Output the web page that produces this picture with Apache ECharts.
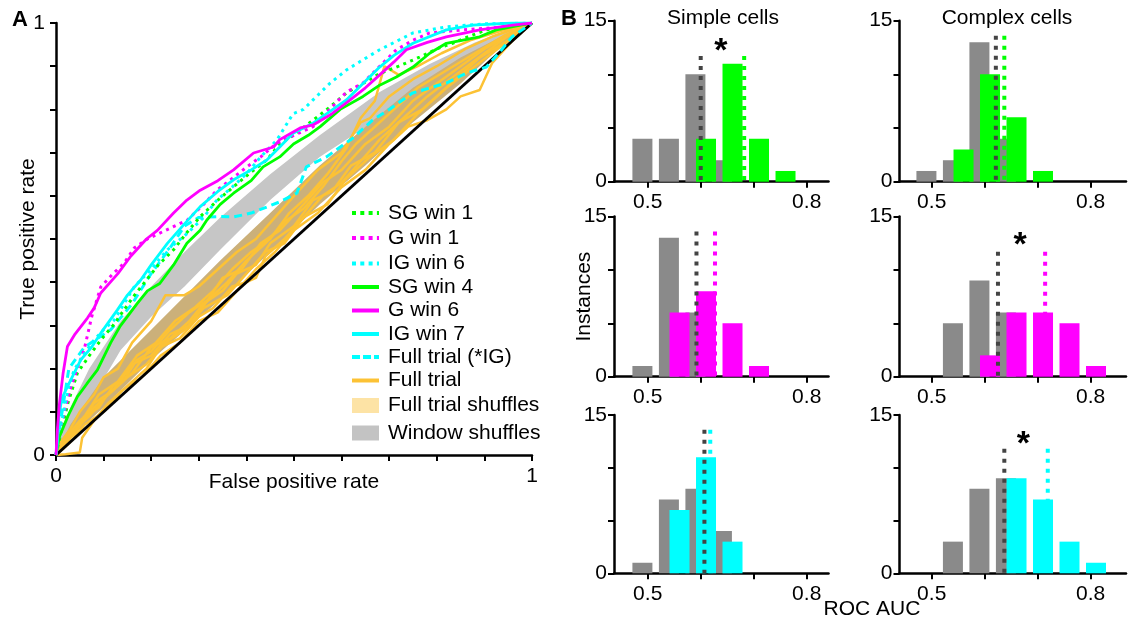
<!DOCTYPE html>
<html>
<head>
<meta charset="utf-8">
<script src="https://cdn.jsdelivr.net/npm/echarts@6.0.0/dist/echarts.min.js"></script>
<style>
html, body { margin: 0; padding: 0; background: #fff; }
#main { width: 1129px; height: 631px; }
</style>
</head>
<body>
<div id="main"></div>
<script>
var FONT = 'Liberation Sans, Arial, sans-serif';

// ===== A: ROC curves, [false positive rate, true positive rate] =====
var sgWin1 = [[0,0],[0.01,0.05],[0.025,0.12],[0.045,0.19],[0.07,0.23],[0.094,0.266],[0.12,0.3],[0.143,0.336],[0.165,0.37],[0.185,0.398],[0.215,0.44],[0.247,0.475],[0.275,0.515],[0.303,0.552],[0.34,0.59],[0.373,0.621],[0.41,0.655],[0.443,0.683],[0.47,0.72],[0.492,0.735],[0.54,0.775],[0.575,0.805],[0.61,0.838],[0.645,0.86],[0.68,0.883],[0.72,0.9],[0.764,0.921],[0.8,0.94],[0.833,0.953],[0.87,0.97],[0.904,0.984],[1,1]];
var gWin1 = [[0,0],[0.01,0.065],[0.02,0.11],[0.031,0.157],[0.045,0.2],[0.059,0.243],[0.075,0.32],[0.094,0.389],[0.12,0.42],[0.143,0.444],[0.165,0.48],[0.192,0.5],[0.23,0.52],[0.276,0.544],[0.31,0.58],[0.338,0.613],[0.37,0.64],[0.401,0.667],[0.43,0.69],[0.464,0.722],[0.5,0.74],[0.54,0.76],[0.575,0.8],[0.61,0.84],[0.645,0.861],[0.68,0.9],[0.715,0.938],[0.75,0.96],[0.785,0.977],[0.854,0.984],[0.93,0.99],[1,1]];
var igWin6 = [[0,0],[0.005,0.04],[0.014,0.088],[0.025,0.15],[0.038,0.197],[0.06,0.235],[0.08,0.266],[0.1,0.29],[0.122,0.312],[0.143,0.35],[0.164,0.389],[0.2,0.43],[0.234,0.475],[0.276,0.513],[0.31,0.55],[0.338,0.59],[0.37,0.62],[0.401,0.652],[0.43,0.69],[0.464,0.729],[0.498,0.79],[0.52,0.8],[0.54,0.822],[0.575,0.86],[0.61,0.891],[0.645,0.915],[0.68,0.938],[0.75,0.977],[0.82,0.991],[0.9,0.998],[1,1]];
var sgWin4 = [[0,0],[0.007,0.042],[0.025,0.09],[0.045,0.135],[0.065,0.165],[0.087,0.197],[0.115,0.26],[0.134,0.297],[0.17,0.35],[0.192,0.38],[0.218,0.397],[0.247,0.44],[0.275,0.49],[0.303,0.52],[0.317,0.544],[0.345,0.58],[0.373,0.606],[0.41,0.635],[0.435,0.667],[0.47,0.69],[0.499,0.72],[0.53,0.74],[0.555,0.76],[0.597,0.8],[0.645,0.83],[0.68,0.856],[0.715,0.875],[0.75,0.898],[0.785,0.93],[0.82,0.953],[0.89,0.968],[0.925,0.984],[1,1]];
var gWin6 = [[0,0],[0.003,0.06],[0.007,0.116],[0.015,0.19],[0.024,0.251],[0.04,0.28],[0.066,0.317],[0.08,0.34],[0.094,0.375],[0.13,0.42],[0.157,0.46],[0.19,0.5],[0.213,0.52],[0.247,0.56],[0.275,0.59],[0.303,0.613],[0.34,0.635],[0.373,0.66],[0.415,0.699],[0.457,0.713],[0.47,0.73],[0.513,0.757],[0.54,0.764],[0.58,0.79],[0.61,0.815],[0.65,0.85],[0.68,0.88],[0.71,0.91],[0.736,0.938],[0.78,0.955],[0.82,0.968],[0.89,0.984],[0.96,0.995],[1,1]];
var igWin7 = [[0,0],[0.003,0.028],[0.006,0.088],[0.012,0.13],[0.024,0.158],[0.052,0.22],[0.075,0.25],[0.094,0.282],[0.129,0.336],[0.15,0.37],[0.178,0.405],[0.2,0.44],[0.234,0.49],[0.27,0.535],[0.303,0.575],[0.34,0.61],[0.373,0.637],[0.41,0.66],[0.443,0.683],[0.47,0.713],[0.498,0.745],[0.54,0.768],[0.575,0.795],[0.61,0.822],[0.645,0.86],[0.68,0.898],[0.71,0.925],[0.75,0.953],[0.82,0.984],[0.875,0.995],[0.96,1],[1,1]];
var fullTrialIG = [[0,0],[0.01,0.08],[0.027,0.2],[0.06,0.25],[0.115,0.29],[0.16,0.35],[0.2,0.42],[0.24,0.48],[0.27,0.53],[0.3,0.55],[0.345,0.552],[0.373,0.551],[0.41,0.56],[0.443,0.574],[0.47,0.586],[0.506,0.606],[0.526,0.667],[0.568,0.69],[0.624,0.734],[0.665,0.775],[0.7,0.8],[0.749,0.838],[0.82,0.861],[0.862,0.884],[0.904,0.898],[0.93,0.93],[0.958,0.968],[1,1]];
var fullTrial = [
  [[0,0],[0.01,0.03],[0.03,0.06],[0.05,0.1],[0.08,0.14],[0.1,0.18],[0.13,0.2],[0.16,0.26],[0.2,0.31],[0.23,0.37],[0.27,0.37],[0.3,0.39],[0.34,0.43],[0.38,0.47],[0.42,0.5],[0.46,0.55],[0.5,0.6],[0.55,0.66],[0.6,0.7],[0.64,0.77],[0.66,0.78],[0.7,0.83],[0.75,0.87],[0.8,0.9],[0.86,0.94],[0.92,0.97],[1,1]],
  [[0,0],[0.02,0.02],[0.04,0.06],[0.07,0.09],[0.1,0.13],[0.14,0.17],[0.17,0.22],[0.2,0.24],[0.24,0.29],[0.28,0.33],[0.32,0.36],[0.35,0.41],[0.39,0.43],[0.43,0.49],[0.47,0.52],[0.52,0.58],[0.56,0.63],[0.6,0.66],[0.65,0.72],[0.7,0.76],[0.75,0.82],[0.8,0.86],[0.85,0.9],[0.9,0.94],[0.95,0.97],[1,1]],
  [[0,0],[0.02,0.002],[0.05,0.006],[0.055,0.04],[0.08,0.08],[0.11,0.12],[0.15,0.16],[0.19,0.2],[0.22,0.25],[0.26,0.27],[0.3,0.32],[0.33,0.34],[0.37,0.39],[0.4,0.4],[0.42,0.41],[0.44,0.46],[0.48,0.5],[0.52,0.55],[0.57,0.58],[0.61,0.64],[0.66,0.69],[0.71,0.73],[0.76,0.79],[0.82,0.85],[0.88,0.9],[0.94,0.95],[1,1]],
  [[0,0],[0.02,0.04],[0.05,0.08],[0.09,0.11],[0.12,0.16],[0.16,0.19],[0.2,0.25],[0.24,0.27],[0.28,0.31],[0.31,0.35],[0.35,0.38],[0.38,0.42],[0.42,0.44],[0.45,0.49],[0.5,0.53],[0.54,0.59],[0.58,0.61],[0.62,0.67],[0.67,0.7],[0.72,0.77],[0.77,0.8],[0.83,0.86],[0.89,0.92],[0.95,0.96],[1,1]],
  [[0,0],[0.03,0.05],[0.06,0.09],[0.09,0.14],[0.13,0.17],[0.17,0.23],[0.21,0.26],[0.25,0.31],[0.29,0.34],[0.33,0.38],[0.37,0.43],[0.41,0.47],[0.45,0.5],[0.49,0.56],[0.53,0.6],[0.57,0.65],[0.61,0.71],[0.64,0.78],[0.67,0.82],[0.69,0.9],[0.72,0.88],[0.76,0.9],[0.81,0.93],[0.87,0.96],[0.93,0.98],[1,1]],
  [[0,0],[0.03,0.03],[0.06,0.07],[0.1,0.1],[0.14,0.15],[0.18,0.18],[0.22,0.23],[0.26,0.26],[0.3,0.31],[0.34,0.33],[0.38,0.38],[0.42,0.43],[0.46,0.47],[0.5,0.52],[0.55,0.56],[0.6,0.62],[0.65,0.66],[0.7,0.72],[0.74,0.76],[0.78,0.775],[0.82,0.8],[0.85,0.83],[0.89,0.845],[0.916,0.907],[0.96,0.96],[1,1]],
  [[0,0],[0.01,0.02],[0.04,0.05],[0.07,0.1],[0.11,0.14],[0.15,0.18],[0.19,0.21],[0.23,0.26],[0.27,0.29],[0.31,0.34],[0.36,0.37],[0.4,0.42],[0.44,0.47],[0.48,0.49],[0.52,0.55],[0.56,0.6],[0.6,0.63],[0.64,0.68],[0.68,0.73],[0.73,0.78],[0.78,0.83],[0.84,0.88],[0.9,0.93],[0.95,0.97],[1,1]],
  [[0,0],[0.02,0.03],[0.05,0.07],[0.08,0.12],[0.12,0.15],[0.16,0.21],[0.2,0.23],[0.24,0.28],[0.28,0.3],[0.32,0.36],[0.36,0.4],[0.4,0.45],[0.44,0.49],[0.48,0.54],[0.52,0.57],[0.56,0.62],[0.6,0.68],[0.63,0.72],[0.66,0.75],[0.71,0.8],[0.76,0.85],[0.82,0.89],[0.88,0.93],[0.94,0.97],[1,1]]
];
var diagonal = [[0,0],[1,1]];
// shuffle envelopes
var winShufFpr  = [0, 0.01, 0.03, 0.07, 0.136, 0.2, 0.27, 0.345, 0.45, 0.554, 0.68, 0.785, 0.88, 0.95, 1];
var winShufHigh = [0, 0.05, 0.11, 0.2, 0.31, 0.39, 0.47, 0.55, 0.65, 0.74, 0.84, 0.905, 0.955, 0.985, 1];
var winShufLow  = [0, 0.01, 0.04, 0.12, 0.243, 0.32, 0.39, 0.475, 0.59, 0.69, 0.78, 0.865, 0.93, 0.97, 1];
var ftShufFpr  = [0, 0.03, 0.1, 0.2, 0.345, 0.45, 0.554, 0.65, 0.75, 0.85, 0.93, 1];
var ftShufHigh = [0, 0.07, 0.18, 0.29, 0.45, 0.56, 0.67, 0.76, 0.85, 0.92, 0.965, 1];
var ftShufLow  = [0, 0.04, 0.11, 0.22, 0.36, 0.47, 0.58, 0.67, 0.77, 0.86, 0.94, 1];
var rocTicks = [0, 0.1, 0.2, 0.3, 0.4, 0.5, 0.6, 0.7, 0.8, 0.9, 1];
var rocLabels = [0, 1];

// ===== B: ROC AUC histograms, [bin centre, count] =====
var aucTicks = [0.5, 0.6, 0.7, 0.8];
var aucLabels = [0.5, 0.8];
var countTicks = [0, 5, 10, 15];
var countLabels = [0, 15];
var simpleGray = [
  [[0.49,4],[0.54,4],[0.59,10],[0.64,2]],
  [[0.49,1],[0.54,13],[0.59,6]],
  [[0.49,1],[0.54,7],[0.59,8],[0.64,4]]
];
var simpleWin = [
  [[0.61,4],[0.66,11],[0.71,4],[0.76,1]],
  [[0.56,6],[0.61,8],[0.66,5],[0.71,1]],
  [[0.56,6],[0.61,11],[0.66,3]]
];
var complexGray = [
  [[0.49,1],[0.54,2],[0.59,13],[0.64,4]],
  [[0.54,5],[0.59,9],[0.64,6]],
  [[0.54,3],[0.59,8],[0.64,9]]
];
var complexWin = [
  [[0.56,3],[0.61,10],[0.66,6],[0.71,1]],
  [[0.61,2],[0.66,6],[0.71,6],[0.76,5],[0.81,1]],
  [[0.66,9],[0.71,7],[0.76,3],[0.81,1]]
];
var simpleGrayMean = [0.600, 0.592, 0.607];
var simpleWinMean = [0.682, 0.627, 0.618];
var simpleMeanTop = [11.7, 13.6, 13.6];
var complexGrayMean = [0.621, 0.625, 0.637];
var complexWinMean = [0.637, 0.714, 0.719];
var complexMeanTop = [13.6, 11.7, 11.8];
var simpleStar = [[0.638, 12.7], null, null];
var complexStar = [null, [0.667, 12.8], [0.673, 12.8]];

var legendNames = ['SG win 1', 'G win 1', 'IG win 6', 'SG win 4', 'G win 6', 'IG win 7', 'Full trial (*IG)', 'Full trial', 'Full trial shuffles', 'Window shuffles'];

// ---- styles / layout ----
var GREEN = '#00ff00', MAGENTA = '#ff00ff', CYAN = '#00ffff', ORANGE = '#fcc235';
var rowColors = [GREEN, MAGENTA, CYAN];
var DOT = [3, 4.5], DASH = [8, 5];
var legendStyles = [
  {stroke: GREEN, dash: [4, 4.3]}, {stroke: MAGENTA, dash: [4, 4.3]}, {stroke: CYAN, dash: [4, 4.3]},
  {stroke: GREEN}, {stroke: MAGENTA}, {stroke: CYAN},
  {stroke: CYAN, dash: [8, 3]}, {stroke: ORANGE},
  {fill: '#fde3a5'}, {fill: '#c3c3c3'}
];
var legendY = [213, 238, 263.5, 287, 310.5, 334, 357, 380.5, 405.5, 433];
var colLeft = [614, 899.5], colWidth = [214.5, 226.5], colMin = [0.4364, 0.4392], colMax = [0.8411, 0.8666];
var rowTop = [20.7, 216.5, 415], rowHeight = [161, 160.2, 158.3];

var chart = echarts.init(document.getElementById('main'));

var axisLineStyle = {color: '#000', width: 2.5};
var tickStyle = {color: '#000', width: 2};

var option = {
  animation: false,
  textStyle: {fontFamily: FONT},
  grid: [{left: 56, top: 23, width: 476, height: 432}],
  xAxis: [{
    gridIndex: 0, type: 'value', min: 0, max: 1,
    name: 'False positive rate', nameLocation: 'middle', nameGap: 17, nameMoveOverlap: false,
    nameTextStyle: {fontSize: 21, color: '#000', fontFamily: FONT},
    axisLine: {onZero: false, lineStyle: axisLineStyle},
    axisTick: {customValues: rocTicks, length: 6, lineStyle: tickStyle},
    axisLabel: {customValues: rocLabels, fontSize: 21, color: '#000', margin: 11, fontFamily: FONT},
    splitLine: {show: false}
  }],
  yAxis: [{
    gridIndex: 0, type: 'value', min: 0, max: 1,
    name: 'True positive rate', nameLocation: 'middle', nameGap: 17, nameMoveOverlap: false,
    nameTextStyle: {fontSize: 21, color: '#000', fontFamily: FONT},
    axisLine: {onZero: false, lineStyle: axisLineStyle},
    axisTick: {customValues: rocTicks, length: 6, lineStyle: tickStyle},
    axisLabel: {customValues: rocLabels, fontSize: 21, color: '#000', margin: 11, fontFamily: FONT},
    splitLine: {show: false}
  }],
  series: [],
  graphic: []
};

function bandSeries(fpr, lo, hi, color) {
  return {
    type: 'custom', xAxisIndex: 0, yAxisIndex: 0, silent: true, z: 1,
    data: [[0, 0]],
    renderItem: function (params, api) {
      var pts = [];
      for (var i = 0; i < fpr.length; i++) pts.push(api.coord([fpr[i], hi[i]]));
      for (var j = fpr.length - 1; j >= 0; j--) pts.push(api.coord([fpr[j], lo[j]]));
      return {type: 'polygon', shape: {points: pts}, style: {fill: color}};
    }
  };
}

function rocLine(name, data, color, width, dash, z) {
  return {
    type: 'line', name: name, xAxisIndex: 0, yAxisIndex: 0, data: data,
    symbol: 'none', silent: true, z: z,
    lineStyle: {color: color, width: width, type: dash || 'solid', cap: 'butt'}
  };
}

// A
option.series.push(bandSeries(winShufFpr, winShufLow, winShufHigh, '#c6c6c6'));
option.series.push(bandSeries(ftShufFpr, ftShufLow, ftShufHigh, '#cbb07a'));
for (var k = 0; k < fullTrial.length; k++) {
  option.series.push(rocLine('Full trial', fullTrial[k], ORANGE, 2.5, null, 2));
}
option.series.push(rocLine('diag', diagonal, '#000', 3, null, 3));
option.series.push(rocLine('Full trial (*IG)', fullTrialIG, CYAN, 3, DASH, 4));
option.series.push(rocLine('SG win 1', sgWin1, GREEN, 3, DOT, 5));
option.series.push(rocLine('G win 1', gWin1, MAGENTA, 3, DOT, 5));
option.series.push(rocLine('IG win 6', igWin6, CYAN, 3, DOT, 5));
option.series.push(rocLine('SG win 4', sgWin4, GREEN, 2.8, null, 6));
option.series.push(rocLine('IG win 7', igWin7, CYAN, 2.8, null, 6));
option.series.push(rocLine('G win 6', gWin6, MAGENTA, 2.8, null, 6));

// B
var panels = [
  {gray: simpleGray, win: simpleWin, gm: simpleGrayMean, wm: simpleWinMean, top: simpleMeanTop, star: simpleStar},
  {gray: complexGray, win: complexWin, gm: complexGrayMean, wm: complexWinMean, top: complexMeanTop, star: complexStar}
];

for (var r = 0; r < 3; r++) {
  for (var c = 0; c < 2; c++) {
    var g = option.grid.length;
    var p = panels[c];
    option.grid.push({left: colLeft[c], top: rowTop[r], width: colWidth[c], height: rowHeight[r]});
    option.xAxis.push({
      gridIndex: g, type: 'value', min: colMin[c], max: colMax[c],
      axisLine: {onZero: false, lineStyle: axisLineStyle},
      axisTick: {customValues: aucTicks, length: 6, lineStyle: tickStyle},
      axisLabel: {customValues: aucLabels, fontSize: 21, color: '#000', margin: 10, fontFamily: FONT,
        formatter: function (v) { return v.toFixed(1); }},
      splitLine: {show: false}
    });
    var ya = {
      gridIndex: g, type: 'value', min: 0, max: 15,
      axisLine: {onZero: false, lineStyle: axisLineStyle},
      axisTick: {customValues: countTicks, length: 6, lineStyle: tickStyle},
      axisLabel: {customValues: countLabels, fontSize: 21, color: '#000', margin: 7, fontFamily: FONT},
      splitLine: {show: false}
    };
    if (r === 1 && c === 0) {
      ya.name = 'Instances';
      ya.nameLocation = 'middle';
      ya.nameGap = 19;
      ya.nameMoveOverlap = false;
      ya.nameTextStyle = {fontSize: 21, color: '#000', fontFamily: FONT};
    }
    option.yAxis.push(ya);

    option.series.push({
      type: 'bar', xAxisIndex: g, yAxisIndex: g, data: p.gray[r], silent: true,
      barWidth: 20, barGap: '-100%', itemStyle: {color: '#8a8a8a'}, z: 2
    });
    option.series.push({
      type: 'bar', xAxisIndex: g, yAxisIndex: g, data: p.win[r], silent: true,
      barWidth: 20, barGap: '-100%', itemStyle: {color: rowColors[r]}, z: 3
    });
    option.series.push({
      type: 'line', xAxisIndex: g, yAxisIndex: g, silent: true, symbol: 'none', z: 5,
      data: [[p.gm[r], p.top[r]], [p.gm[r], 0]],
      lineStyle: {color: '#444', width: 4, type: [4, 6], cap: 'butt'}
    });
    option.series.push({
      type: 'line', xAxisIndex: g, yAxisIndex: g, silent: true, symbol: 'none', z: 5,
      data: [[p.wm[r], p.top[r]], [p.wm[r], 0]],
      lineStyle: {color: rowColors[r], width: 4, type: [4, 6], cap: 'butt'}
    });
    if (p.star[r]) {
      option.series.push({
        type: 'custom', xAxisIndex: g, yAxisIndex: g, silent: true, z: 10,
        data: [p.star[r]],
        renderItem: function (params, api) {
          var pt = api.coord([api.value(0), api.value(1)]);
          return {type: 'text', x: pt[0], y: pt[1] + 6,
            style: {text: '*', fontSize: 34, fontWeight: 'bold', fontFamily: FONT, fill: '#000',
              align: 'center', verticalAlign: 'middle'}};
        }
      });
    }
  }
}

// texts
function label(txt, x, y, size, bold, align) {
  return {type: 'text', x: x, y: y, silent: true,
    style: {text: txt, fontSize: size, fontWeight: bold ? 'bold' : 'normal', fontFamily: FONT,
      fill: '#000', align: align || 'center', verticalAlign: 'middle'}};
}
option.graphic.push(label('A', 20, 20, 22, true));
option.graphic.push(label('B', 569, 19, 22, true));
option.graphic.push(label('Simple cells', 723, 18, 21));
option.graphic.push(label('Complex cells', 1007, 18, 21));
option.graphic.push(label('ROC AUC', 872, 609, 21));

// legend
for (var i = 0; i < legendNames.length; i++) {
  var st = legendStyles[i], ly = legendY[i];
  if (st.fill) {
    option.graphic.push({type: 'rect', silent: true, shape: {x: 352, y: ly - 7.5, width: 27, height: 15},
      style: {fill: st.fill}});
  } else {
    option.graphic.push({type: 'line', silent: true, shape: {x1: 352, y1: ly, x2: 379, y2: ly},
      style: {stroke: st.stroke, lineWidth: 4, lineDash: st.dash || null}});
  }
  option.graphic.push(label(legendNames[i], 388, ly, 21, false, 'left'));
}

chart.setOption(option);
</script>
</body>
</html>
